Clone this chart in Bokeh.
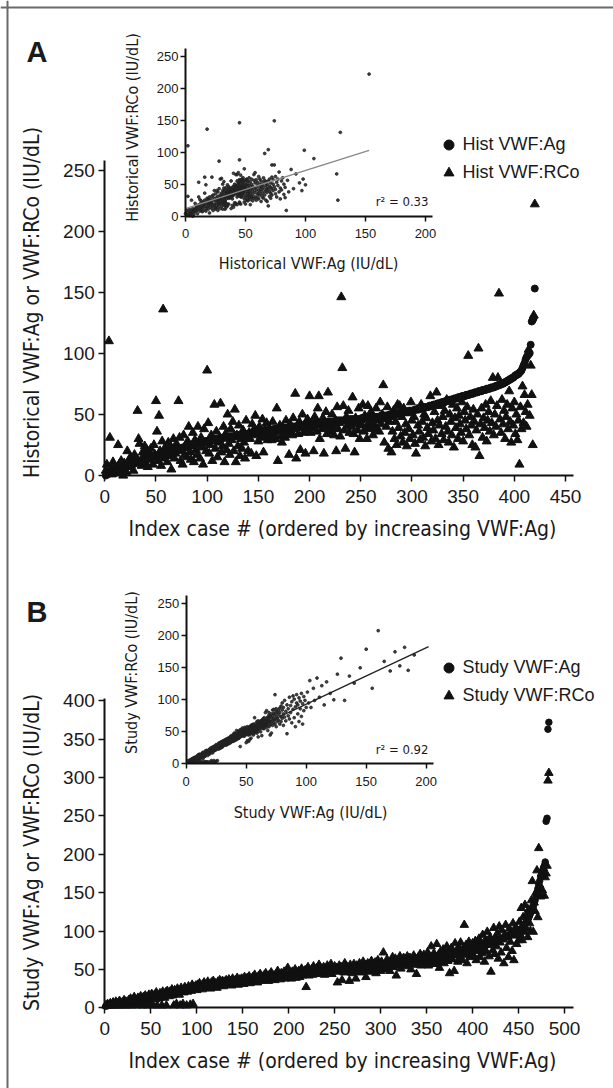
from bokeh.plotting import figure
from bokeh.models import Range1d, LinearAxis, FixedTicker, Label, Legend, LegendItem, Span
from bokeh.embed import file_html
from bokeh.resources import INLINE

W, H = 613, 1088
SANS = "Liberation Sans"
NARROW = "'DejaVu Sans Condensed', 'Roboto', sans-serif"

# ---------------- Panel A data (historical) ----------------
hist_ag = [
    0,1,1,2,2,2,3,3,3,4,4,4,5,5,5,6,6,6,7,7,7,8,8,8,9,
    9,9,10,10,10,11,11,11,12,12,12,12,13,13,13,14,14,14,15,15,15,15,16,16,16,
    16,17,17,17,17,18,18,18,18,19,19,19,19,20,20,20,20,21,21,21,21,22,22,22,22,
    23,23,23,23,24,24,24,24,25,25,25,25,26,26,26,26,26,27,27,27,27,27,28,28,28,
    28,28,29,29,29,29,29,29,30,30,30,30,30,30,31,31,31,31,31,31,32,32,32,32,32,
    32,32,33,33,33,33,33,33,33,34,34,34,34,34,34,34,35,35,35,35,35,35,35,36,36,
    36,36,36,36,36,36,37,37,37,37,37,37,37,37,38,38,38,38,38,38,38,38,39,39,39,
    39,39,39,39,39,39,40,40,40,40,40,40,40,40,41,41,41,41,41,41,41,41,42,42,42,
    42,42,42,42,42,42,43,43,43,43,43,43,43,43,43,44,44,44,44,44,44,44,44,44,44,
    45,45,45,45,45,45,45,45,45,45,45,45,45,46,46,46,46,46,46,46,46,46,46,46,46,
    47,47,47,47,47,47,47,47,47,47,48,48,48,48,48,48,48,48,48,49,49,49,49,49,49,
    49,49,50,50,50,50,50,50,50,51,51,51,51,51,51,52,52,52,52,52,52,53,53,53,53,
    53,53,54,54,54,54,54,55,55,55,55,55,56,56,56,56,57,57,57,57,58,58,58,58,59,
    59,59,59,60,60,60,60,61,61,61,61,62,62,62,62,63,63,63,63,64,64,64,64,65,65,
    65,65,66,66,66,66,67,67,67,67,68,68,68,68,69,69,69,69,70,70,70,70,71,71,71,
    71,72,72,72,72,73,73,73,74,74,74,75,75,75,76,76,77,77,78,78,79,79,80,80,81,
    82,82,83,83,84,85,86,88,90,92,95,97,98,99,100,107,126,127,129,153,
]
hist_rco = [
    4,9,2,110,31,6,1,11,3,7,5,2,25,9,4,12,6,0,10,8,
    3,20,11,7,15,9,13,4,17,10,14,53,30,26,12,8,19,16,24,10,
    21,7,13,18,22,15,9,25,17,61,36,12,49,20,8,28,136,14,23,19,
    11,27,16,24,5,21,30,14,18,26,22,61,31,12,20,9,33,17,25,15,
    28,40,19,13,24,35,11,29,21,17,40,26,14,31,23,9,38,27,20,86,
    43,18,25,33,12,29,58,22,36,15,27,31,59,19,24,40,11,34,21,50,
    26,17,38,29,44,20,54,11,33,24,41,16,30,22,37,27,14,45,31,20,
    35,30,18,42,33,38,49,16,36,28,40,31,34,46,19,37,32,43,29,36,
    38,33,29,44,35,36,30,55,12,37,41,32,27,39,36,31,45,34,38,17,
    42,36,33,47,38,67,14,40,34,44,21,39,50,35,41,18,38,46,37,65,
    35,43,39,20,48,41,36,55,65,30,42,38,47,18,40,52,34,68,43,39,
    36,50,40,33,45,20,56,38,43,32,146,88,57,37,22,48,41,53,35,44,
    40,64,34,19,47,42,37,55,30,45,41,58,36,49,39,30,57,43,38,52,
    42,33,47,40,55,38,45,36,60,42,50,74,27,46,40,56,22,44,48,19,
    36,53,30,44,25,58,39,57,32,48,27,55,35,42,24,51,38,30,60,45,
    33,48,26,18,54,41,36,29,58,44,31,50,24,47,39,34,56,65,28,43,
    37,52,30,68,45,25,41,57,34,48,29,53,40,62,36,27,50,44,33,58,
    23,47,39,55,30,49,42,35,60,28,52,45,38,56,98,33,48,41,25,54,
    44,23,37,50,104,16,42,55,31,47,39,58,28,45,52,36,61,43,80,33,
    50,40,57,80,149,46,35,62,42,53,30,48,58,38,69,44,27,55,41,60,
    34,50,29,45,9,56,38,73,43,66,52,40,58,103,49,90,66,25,131,222,
]
hist_fit_x = [0, 153]
hist_fit_y = [12, 103]
hist_r2 = "r\u00b2 = 0.33"

# ---------------- Panel B data (study) ----------------
study_ag = [
    2,3,3,3,4,4,4,4,5,5,5,5,5,5,6,6,6,6,6,7,7,7,7,8,8,
    8,8,9,9,9,9,10,10,10,10,11,11,11,11,12,12,12,12,13,13,13,13,14,14,14,
    14,15,15,15,15,16,16,16,16,17,17,17,17,18,18,18,18,19,19,19,19,20,20,20,20,
    21,21,21,21,22,22,22,22,23,23,23,23,24,24,24,24,25,25,25,25,26,26,26,26,27,
    27,27,27,27,27,28,28,28,28,28,28,29,29,29,29,29,29,30,30,30,30,30,30,31,31,
    31,31,31,31,32,32,32,32,32,32,33,33,33,33,33,33,34,34,34,34,34,34,34,35,35,
    35,35,35,35,36,36,36,36,36,36,37,37,37,37,37,37,38,38,38,38,38,38,38,39,39,
    39,39,39,39,39,40,40,40,40,40,40,40,40,41,41,41,41,41,41,41,41,42,42,42,42,
    42,42,42,43,43,43,43,43,43,44,44,44,44,44,44,45,45,45,45,45,45,45,46,46,46,
    46,46,46,47,47,47,47,47,47,48,48,48,48,48,48,49,49,49,49,49,49,49,50,50,50,
    50,50,50,50,51,51,51,51,51,51,51,51,52,52,52,52,52,52,52,52,53,53,53,53,53,
    53,53,53,54,54,54,54,54,54,55,55,55,55,55,55,56,56,56,56,56,56,56,57,57,57,
    57,57,57,58,58,58,58,58,58,59,59,59,59,59,59,60,60,60,60,60,60,60,61,61,61,
    61,61,61,62,62,62,62,62,62,63,63,63,63,63,63,64,64,64,64,64,64,64,65,65,65,
    65,65,66,66,66,66,66,67,67,67,67,67,68,68,68,68,68,69,69,69,69,69,70,70,70,
    70,71,71,71,71,72,72,72,72,73,73,73,73,74,74,74,74,75,75,75,75,76,76,76,77,
    77,77,78,78,78,79,79,79,80,80,80,81,81,81,82,82,83,83,84,84,85,85,86,86,87,
    87,88,88,89,89,90,90,91,91,92,92,93,93,94,94,95,95,96,96,97,97,98,98,99,100,
    101,102,103,104,106,107,109,111,113,115,117,120,123,126,129,132,136,140,145,150,
    155,160,165,170,174,178,182,185,190,243,247,363,372,
]
study_rco = [
    3,3,5,3,3,6,3,4,7,3,5,8,3,6,3,9,5,3,7,4,10,3,8,6,3,
    10,5,12,3,8,11,14,6,9,3,13,10,7,15,11,3,14,9,16,12,3,10,17,13,8,
    18,3,14,17,11,20,3,15,12,19,16,3,21,17,13,20,3,22,18,15,21,19,24,16,3,
    23,19,5,25,21,17,3,26,22,5,20,27,24,3,21,28,25,4,22,30,5,27,24,29,23,
    30,25,32,27,29,24,31,33,26,30,28,34,27,31,25,33,29,35,28,32,30,26,34,31,36,
    29,33,35,28,34,31,36,30,33,37,32,35,29,38,34,31,36,33,39,30,35,37,32,38,34,
    31,40,36,33,39,35,41,32,37,38,40,34,43,36,39,33,41,37,44,35,40,38,42,36,45,
    38,41,35,43,39,46,37,42,40,36,44,41,48,39,43,37,45,42,40,47,38,44,41,52,39,
    45,42,38,47,41,44,50,39,46,43,48,40,45,51,42,47,44,49,27,46,53,42,48,45,50,
    43,54,47,49,44,52,46,56,48,45,51,47,53,43,50,48,55,46,52,49,57,44,51,48,54,
    47,52,33,50,55,48,53,36,51,46,58,49,54,47,52,35,56,50,45,53,57,48,38,55,51,
    49,58,46,54,51,60,48,56,40,53,58,50,55,47,61,52,57,49,59,45,54,62,51,56,48,
    60,53,72,55,50,58,63,52,57,48,61,55,66,53,59,64,42,58,62,55,67,51,60,56,65,
    58,63,54,67,60,57,65,50,62,59,68,56,64,44,61,66,58,70,55,63,60,69,57,65,62,
    72,55,68,62,80,59,66,71,57,64,83,60,69,52,73,65,62,76,58,70,67,80,61,74,45,
    66,78,63,72,48,84,68,75,60,79,65,85,71,62,77,108,69,82,58,74,86,66,80,71,84,
    68,77,87,62,80,74,90,66,84,71,95,78,60,88,73,99,82,67,92,47,86,75,104,70,91,
    80,97,64,106,85,72,101,89,58,95,108,78,92,66,103,86,98,74,110,62,94,105,83,99,88,
    112,95,130,88,118,99,134,104,122,92,128,110,100,140,165,99,137,126,150,179,
    118,208,160,145,175,153,182,146,170,175,185,296,306,
]
study_fit_x = [0, 202]
study_fit_y = [5, 183]
study_r2 = "r\u00b2 = 0.92"

main_x_ticks_A = [0, 50, 100, 150, 200, 250, 300, 350, 400, 450]
main_y_ticks_A = [0, 50, 100, 150, 200, 250]
main_x_ticks_B = [0, 50, 100, 150, 200, 250, 300, 350, 400, 450, 500]
main_y_ticks_B = [0, 50, 100, 150, 200, 250, 300, 350, 400]
inset_x_ticks = [0, 50, 100, 150, 200]
inset_y_ticks = [0, 50, 100, 150, 200, 250]

nA = min(len(hist_ag), len(hist_rco))
nB = min(len(study_ag), len(study_rco))
hist_ag, hist_rco = hist_ag[:nA], hist_rco[:nA]
study_ag, study_rco = study_ag[:nB], study_rco[:nB]
case_A = list(range(1, nA + 1))
case_B = list(range(1, nB + 1))


def xr(v0, p0, v1, p1):
    k = (p1 - p0) / (v1 - v0)
    return Range1d(v0 + (0 - p0) / k, v0 + (W - p0) / k)


def yr(v0, p0, v1, p1):
    k = (p1 - p0) / (v1 - v0)
    return Range1d(v0 + (H - p0) / k, v0 + (0 - p0) / k)


p = figure(width=W, height=H, output_backend="svg", toolbar_location=None,
           x_range=Range1d(0, W), y_range=Range1d(H, 0),
           x_axis_location=None, y_axis_location=None, min_border=0)
p.outline_line_color = None
p.xgrid.visible = False
p.ygrid.visible = False
p.background_fill_color = "white"

p.extra_x_ranges = {
    "mAx": xr(0, 104.3, 450, 565.0),
    "iAx": xr(0, 185.0, 200, 425.0),
    "mBx": xr(0, 104.3, 500, 564.0),
    "iBx": xr(0, 185.7, 200, 425.7),
}
p.extra_y_ranges = {
    "mAy": yr(0, 475.0, 250, 169.5),
    "iAy": yr(0, 215.7, 250, 55.7),
    "mBy": yr(0, 1007.3, 400, 700.3),
    "iBy": yr(0, 763.3, 250, 603.3),
}


def add_axes(xn, yn, xb, yb, xt, yt, fsize, xstand, ystand, tick_out, lw):
    xa = LinearAxis(x_range_name=xn, y_range_name=yn, fixed_location=0, bounds=xb,
                    ticker=FixedTicker(ticks=xt))
    ya = LinearAxis(x_range_name=xn, y_range_name=yn, fixed_location=0, bounds=yb,
                    ticker=FixedTicker(ticks=yt))
    for a, st in ((xa, xstand), (ya, ystand)):
        a.axis_line_color = "#111111"
        a.axis_line_width = lw
        a.major_tick_line_color = "#111111"
        a.major_tick_line_width = 1.5
        a.major_tick_out = tick_out
        a.major_tick_in = 0
        a.minor_tick_out = 0
        a.minor_tick_in = 0
        a.major_label_text_font = SANS
        a.major_label_text_font_size = fsize
        a.major_label_text_color = "#1a1a1a"
        a.major_label_standoff = st
    p.add_layout(xa, "below")
    p.add_layout(ya, "left")


def label(x, y, text, size, font=NARROW, angle=0, align="center", style="normal", baseline="middle"):
    p.add_layout(Label(x=x, y=y, text=text, text_font=font, text_font_size=size,
                       text_align=align, text_baseline=baseline, angle=angle, angle_units="deg",
                       text_font_style=style, text_color="#1a1a1a"))


# frame border (top and left visible)
p.add_layout(Span(location=7, dimension="width", line_color="#6a6a6a", line_width=2))
p.add_layout(Span(location=7, dimension="height", line_color="#6a6a6a", line_width=2))

# ---------------- Panel A ----------------
add_axes("mAx", "mAy", (0, 458), (0, 258), main_x_ticks_A, main_y_ticks_A, "19px", 8, 4, 6, 2)
rA_rco = p.scatter(case_A, hist_rco, marker="triangle", size=9, color="#111111",
                   x_range_name="mAx", y_range_name="mAy")
rA_ag = p.scatter(case_A, hist_ag, marker="circle", size=7, color="#111111",
                  x_range_name="mAx", y_range_name="mAy")

add_axes("iAx", "iAy", (0, 206), (0, 262), inset_x_ticks, inset_y_ticks, "13px", 8, 2, 5, 2)
p.scatter(hist_ag, hist_rco, marker="circle", size=2.8, color="#222222", alpha=0.85,
          x_range_name="iAx", y_range_name="iAy")
p.line(hist_fit_x, hist_fit_y, line_color="#8a8a8a", line_width=1.3,
       x_range_name="iAx", y_range_name="iAy")

legA = Legend(items=[LegendItem(label="Hist VWF:Ag", renderers=[rA_ag]),
                     LegendItem(label="Hist VWF:RCo", renderers=[rA_rco])],
              location=(435.5, H - 184.5))
label(26, 51, "A", "29px", font=SANS, style="bold", align="left", baseline="alphabetic")
label(31, 302, "Historical VWF:Ag or VWF:RCo (IU/dL)", "21px", angle=90)
label(342, 528, "Index case # (ordered by increasing VWF:Ag)", "21px")
label(132, 127, "Historical VWF:RCo (IU/dL)", "16px", angle=90)
label(308, 263, "Historical VWF:Ag (IU/dL)", "16px")
label(428, 201, hist_r2, "13px", align="right")

# ---------------- Panel B ----------------
add_axes("mBx", "mBy", (0, 510), (0, 403), main_x_ticks_B, main_y_ticks_B, "19px", 8, 4, 6, 2)
rB_rco = p.scatter(case_B, study_rco, marker="triangle", size=8.5, color="#111111",
                   x_range_name="mBx", y_range_name="mBy")
rB_ag = p.scatter(case_B, study_ag, marker="circle", size=6.5, color="#111111",
                  x_range_name="mBx", y_range_name="mBy")

add_axes("iBx", "iBy", (0, 206), (0, 263), inset_x_ticks, inset_y_ticks, "13px", 8, 2, 5, 2)
inB = [(a, r) for a, r in zip(study_ag, study_rco) if a <= 206 and r <= 263]
p.scatter([a for a, r in inB], [r for a, r in inB], marker="circle", size=2.8,
          color="#222222", alpha=0.85, x_range_name="iBx", y_range_name="iBy")
p.line(study_fit_x, study_fit_y, line_color="#222222", line_width=1.4,
       x_range_name="iBx", y_range_name="iBy")

legB = Legend(items=[LegendItem(label="Study VWF:Ag", renderers=[rB_ag]),
                     LegendItem(label="Study VWF:RCo", renderers=[rB_rco])],
              location=(435.5, H - 708))
label(26, 611, "B", "29px", font=SANS, style="bold", align="left", baseline="alphabetic")
label(31, 852, "Study VWF:Ag or VWF:RCo (IU/dL)", "21px", angle=90)
label(342, 1060, "Index case # (ordered by increasing VWF:Ag)", "21px")
label(131, 672, "Study VWF:RCo (IU/dL)", "16px", angle=90)
label(310, 812, "Study VWF:Ag (IU/dL)", "16px")
label(428, 749, study_r2, "13px", align="right")

for lg in (legA, legB):
    lg.border_line_color = None
    lg.background_fill_alpha = 0
    lg.padding = 0
    lg.margin = 0
    lg.spacing = 3
    lg.glyph_width = 25
    lg.glyph_height = 25
    lg.label_height = 25
    lg.label_standoff = 2
    lg.label_text_font = SANS
    lg.label_text_font_size = "18px"
    lg.label_text_color = "#1a1a1a"
    p.add_layout(lg)

open("out.html", "w").write(file_html(p, INLINE))
